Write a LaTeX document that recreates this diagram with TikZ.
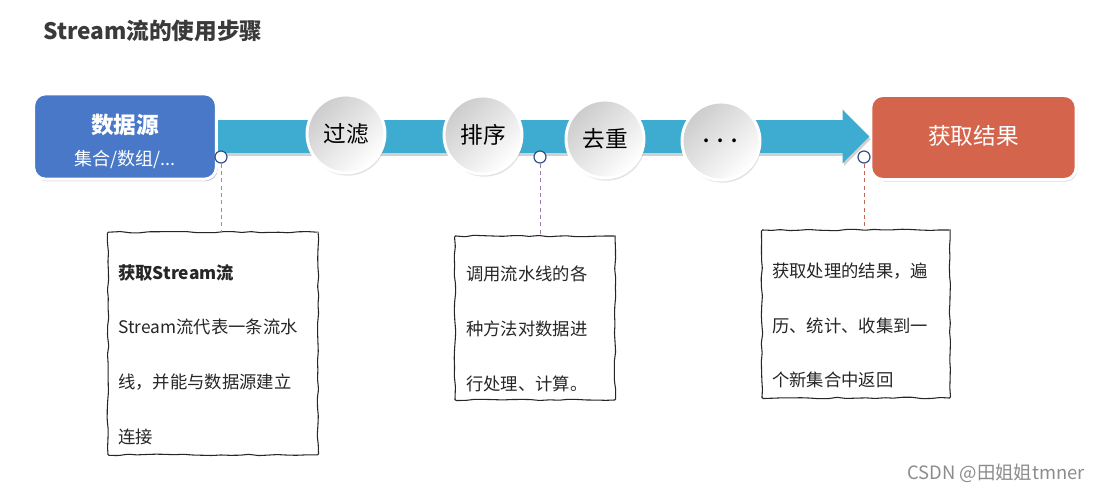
\documentclass[tikz,border=0pt]{standalone}
\usepackage{fontspec}
\setmainfont{Noto Sans CJK SC}
\usetikzlibrary{shadows,arrows.meta,decorations.pathmorphing,calc}
\definecolor{srcblue}{HTML}{4878C7}
\definecolor{resred}{HTML}{D4654C}
\definecolor{bandc}{HTML}{3EACD0}
\definecolor{titlec}{HTML}{3A3A3A}
\definecolor{pinc}{HTML}{34508A}
\definecolor{dashA}{HTML}{5FAE9C}
\definecolor{dashB}{HTML}{9A78B0}
\definecolor{dashC}{HTML}{BE6A56}
\definecolor{wmc}{HTML}{8C8C8C}
\begin{document}
\begin{tikzpicture}[x=0.75pt,y=-0.75pt,
  bigbox/.style={rounded corners=9pt, draw=white, line width=2.2pt,
    drop shadow={opacity=0.28, shadow xshift=1pt, shadow yshift=-1.5pt}},
  stepcircle/.style={circle, minimum size=58.5pt, inner sep=0pt, draw=white, line width=2.2pt,
    top color=black!20, middle color=black!3, bottom color=white, shading angle=45,
    drop shadow={opacity=0.22, shadow xshift=1.2pt, shadow yshift=-2pt},
    font=\fontsize{17}{17}\selectfont, text=black},
  pin/.style={circle, minimum size=9pt, inner sep=0pt, fill=white, draw=pinc, line width=0.9pt},
  sketchbox/.style={draw=black!85, line width=0.8pt, rounded corners=0.8pt,
    decorate, decoration={random steps, segment length=7pt, amplitude=0.6pt}},
  bodytext/.style={anchor=west, align=left, inner sep=0pt, text=black!85,
    font=\fontsize{13}{41}\selectfont},
  guide/.style={line width=0.7pt, dash pattern=on 3pt off 2.5pt}
]
\useasboundingbox[fill=white] (0,0) rectangle (1101,493);

% title
\node[anchor=west, inner sep=0pt, text=titlec, font=\fontsize{17}{17}\selectfont\bfseries] (title) at (43,31) {Stream流的使用步骤};

% boxes
\node[bigbox, fill=srcblue, minimum width=137pt, minimum height=64pt] (src) at (125,136.5) {};
\node[bigbox, fill=resred, minimum width=154pt, minimum height=63pt] (dst) at (973.5,137.5) {};

% band arrow
\draw[line width=24.75pt, color=black, opacity=0.18, -{Triangle[width=39pt,length=20pt]}]
  ([xshift=1pt,yshift=-2pt]src.east) -- ([xshift=1pt,yshift=-2pt]src.east -| dst.west);
\draw[line width=24.75pt, color=bandc, -{Triangle[width=39pt,length=20pt]}]
  (src.east) -- (src.east -| dst.west);

% redraw boxes on top of band
\node[bigbox, fill=srcblue, minimum width=137pt, minimum height=64pt] (src2) at (src) {};
\node[text=white, font=\fontsize{17}{17}\selectfont\bfseries, inner sep=0pt] (srct) at (125,125) {数据源};
\node[text=white, font=\fontsize{13.5}{13.5}\selectfont, inner sep=0pt] (srcs) at (125,160) {集合/数组/...};
\node[text=white, font=\fontsize{17}{17}\selectfont, inner sep=0pt] (dstt) at (973.5,136) {获取结果};

% step circles
\node[stepcircle] (s1) at (346,134) {过滤};
\node[stepcircle] (s2) at (483,135) {排序};
\node[stepcircle] (s3) at (605,139) {去重};
\node[stepcircle, font=\fontsize{13}{13}\selectfont\bfseries] (s4) at (721,141) {.~~.~~.};

% pins
\node[pin] (c1) at (221,157) {};
\node[pin] (c2) at (540,157) {};
\node[pin] (c3) at (864,157) {};

% sketch boxes
\node[sketchbox, minimum width=157.5pt, minimum height=167pt] (n1) at (213,343.5) {};
\node[sketchbox, minimum width=120pt, minimum height=123pt] (n2) at (535,318) {};
\node[sketchbox, minimum width=141pt, minimum height=126pt] (n3) at (856,314) {};

% guides
\draw[guide, dashA] (c1.south) -- (c1.south |- n1.north);
\draw[guide, dashB] (c2.south) -- (c2.south |- n2.north);
\draw[guide, dashC] (c3.south) -- (c3.south |- n3.north);

% texts
\node[bodytext] (t1) at (118,354.5) {\textbf{获取Stream流}\\Stream流代表一条流水\\线，并能与数据源建立\\连接};
\node[bodytext] (t2) at (466,329) {调用流水线的各\\种方法对数据进\\行处理、计算。};
\node[bodytext] (t3) at (772,325.5) {获取处理的结果，遍\\历、统计、收集到一\\个新集合中返回};

% watermark
\node[anchor=east, inner sep=0pt, text=wmc, font=\fontsize{13.8}{13.8}\selectfont] (wm) at (1085,473) {CSDN @田姐姐tmner};
\end{tikzpicture}
\end{document}
